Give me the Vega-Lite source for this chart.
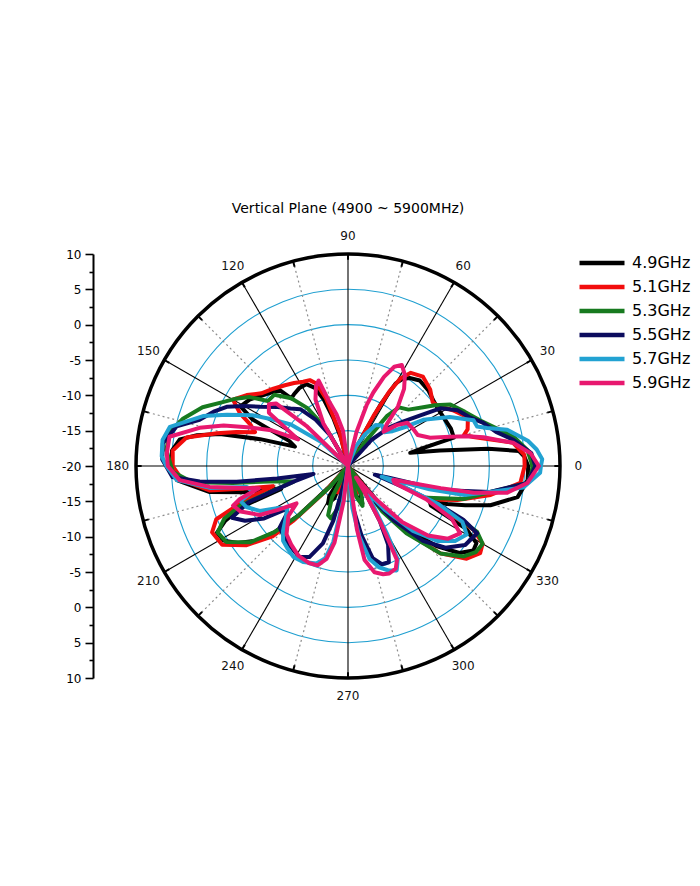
{
  "$schema": "https://vega.github.io/schema/vega-lite/v6.json",
  "autosize": {"type": "none"},
  "padding": {"left": 136, "top": 254, "right": 140, "bottom": 208},
  "width": 424,
  "height": 424,
  "background": "white",
  "title": {"text": "Vertical Plane (4900 ~ 5900MHz)", "fontSize": 14, "font": "DejaVu Sans", "fontWeight": "normal", "color": "black", "offset": 14, "frame": "group", "anchor": "middle"},
  "config": {"view": {"stroke": null}},
  "datasets": {
    "pattern": [
      {"f":"4.9GHz","a":0,"g":5.5},{"f":"4.9GHz","a":3,"g":5.0},{"f":"4.9GHz","a":5,"g":4.3},{"f":"4.9GHz","a":7,"g":0},{"f":"4.9GHz","a":9.5,"g":-6.8},{"f":"4.9GHz","a":12,"g":-11},{"f":"4.9GHz","a":13.5,"g":-9},{"f":"4.9GHz","a":15,"g":-4.5},{"f":"4.9GHz","a":20,"g":-4.5},{"f":"4.9GHz","a":26,"g":-4.8},{"f":"4.9GHz","a":32,"g":-4.9},{"f":"4.9GHz","a":37,"g":-4.8},{"f":"4.9GHz","a":43,"g":-4.4},{"f":"4.9GHz","a":50,"g":-4.2},{"f":"4.9GHz","a":55,"g":-4.8},{"f":"4.9GHz","a":58,"g":-5.5},{"f":"4.9GHz","a":60,"g":-6.5},{"f":"4.9GHz","a":62,"g":-10},{"f":"4.9GHz","a":64,"g":-15},{"f":"4.9GHz","a":67,"g":-20},{"f":"4.9GHz","a":100,"g":-20},{"f":"4.9GHz","a":104,"g":-16},{"f":"4.9GHz","a":107,"g":-13},{"f":"4.9GHz","a":110,"g":-10},{"f":"4.9GHz","a":113,"g":-8},{"f":"4.9GHz","a":117,"g":-7},{"f":"4.9GHz","a":122,"g":-7},{"f":"4.9GHz","a":127,"g":-7.3},{"f":"4.9GHz","a":130,"g":-7.5},{"f":"4.9GHz","a":132,"g":-5.5},{"f":"4.9GHz","a":136,"g":-5},{"f":"4.9GHz","a":141,"g":-4.2},{"f":"4.9GHz","a":146,"g":-3.2},{"f":"4.9GHz","a":151,"g":-2.6},{"f":"4.9GHz","a":154,"g":-5},{"f":"4.9GHz","a":157,"g":-11},{"f":"4.9GHz","a":160,"g":-12},{"f":"4.9GHz","a":163,"g":-7},{"f":"4.9GHz","a":166,"g":-1.3},{"f":"4.9GHz","a":168.5,"g":1.8},{"f":"4.9GHz","a":171,"g":4.1},{"f":"4.9GHz","a":175,"g":5},{"f":"4.9GHz","a":180,"g":5},{"f":"4.9GHz","a":184.7,"g":4.3},{"f":"4.9GHz","a":187.5,"g":2},{"f":"4.9GHz","a":190.7,"g":-0.1},{"f":"4.9GHz","a":194,"g":-4.7},{"f":"4.9GHz","a":197,"g":-9},{"f":"4.9GHz","a":199,"g":-10},{"f":"4.9GHz","a":201,"g":-4},{"f":"4.9GHz","a":204,"g":-1},{"f":"4.9GHz","a":207,"g":0.8},{"f":"4.9GHz","a":211,"g":0.5},{"f":"4.9GHz","a":215,"g":-1},{"f":"4.9GHz","a":219,"g":-3.2},{"f":"4.9GHz","a":222,"g":-6},{"f":"4.9GHz","a":225,"g":-10},{"f":"4.9GHz","a":228,"g":-16},{"f":"4.9GHz","a":231,"g":-20},{"f":"4.9GHz","a":234,"g":-20},{"f":"4.9GHz","a":238,"g":-15},{"f":"4.9GHz","a":242,"g":-14},{"f":"4.9GHz","a":247,"g":-15},{"f":"4.9GHz","a":252,"g":-20},{"f":"4.9GHz","a":282,"g":-20},{"f":"4.9GHz","a":286,"g":-15.5},{"f":"4.9GHz","a":291,"g":-14.3},{"f":"4.9GHz","a":296,"g":-16},{"f":"4.9GHz","a":300,"g":-20},{"f":"4.9GHz","a":306,"g":-20},{"f":"4.9GHz","a":310,"g":-12},{"f":"4.9GHz","a":314,"g":-7},{"f":"4.9GHz","a":318,"g":-3},{"f":"4.9GHz","a":322,"g":0},{"f":"4.9GHz","a":326,"g":1.4},{"f":"4.9GHz","a":329,"g":1.2},{"f":"4.9GHz","a":332,"g":-1},{"f":"4.9GHz","a":334.5,"g":-7},{"f":"4.9GHz","a":337,"g":-7.5},{"f":"4.9GHz","a":339,"g":-5},{"f":"4.9GHz","a":341.5,"g":-2.5},{"f":"4.9GHz","a":344.6,"g":0.9},{"f":"4.9GHz","a":349.6,"g":4.4},{"f":"4.9GHz","a":355.5,"g":5.5},{"f":"4.9GHz","a":360,"g":5.5},

      {"f":"5.1GHz","a":0,"g":5},{"f":"5.1GHz","a":3.6,"g":5},{"f":"5.1GHz","a":8,"g":3.6},{"f":"5.1GHz","a":13,"g":-1.8},{"f":"5.1GHz","a":15,"g":-3},{"f":"5.1GHz","a":17,"g":-2.3},{"f":"5.1GHz","a":22,"g":-1.7},{"f":"5.1GHz","a":28,"g":-3.2},{"f":"5.1GHz","a":34,"g":-4.7},{"f":"5.1GHz","a":37,"g":-5},{"f":"5.1GHz","a":43,"g":-4.1},{"f":"5.1GHz","a":50,"g":-3.5},{"f":"5.1GHz","a":56,"g":-4.1},{"f":"5.1GHz","a":59,"g":-5.5},{"f":"5.1GHz","a":61,"g":-8},{"f":"5.1GHz","a":63,"g":-12},{"f":"5.1GHz","a":66,"g":-17},{"f":"5.1GHz","a":70,"g":-20},{"f":"5.1GHz","a":100,"g":-20},{"f":"5.1GHz","a":104,"g":-15},{"f":"5.1GHz","a":108,"g":-10},{"f":"5.1GHz","a":111,"g":-7.5},{"f":"5.1GHz","a":114,"g":-6.7},{"f":"5.1GHz","a":118,"g":-6.5},{"f":"5.1GHz","a":123,"g":-6},{"f":"5.1GHz","a":128,"g":-5.5},{"f":"5.1GHz","a":134,"g":-4.8},{"f":"5.1GHz","a":140,"g":-4},{"f":"5.1GHz","a":145,"g":-2.5},{"f":"5.1GHz","a":150,"g":-1.2},{"f":"5.1GHz","a":154,"g":-3},{"f":"5.1GHz","a":157,"g":-5},{"f":"5.1GHz","a":160,"g":-6},{"f":"5.1GHz","a":163,"g":-3.5},{"f":"5.1GHz","a":166,"g":-0.9},{"f":"5.1GHz","a":170,"g":3.2},{"f":"5.1GHz","a":175,"g":4.9},{"f":"5.1GHz","a":180,"g":4.8},{"f":"5.1GHz","a":185,"g":3.5},{"f":"5.1GHz","a":190,"g":-0.1},{"f":"5.1GHz","a":192,"g":-4.5},{"f":"5.1GHz","a":195,"g":-9},{"f":"5.1GHz","a":198,"g":-5},{"f":"5.1GHz","a":202,"g":0.1},{"f":"5.1GHz","a":206,"g":1.4},{"f":"5.1GHz","a":212,"g":1},{"f":"5.1GHz","a":218,"g":-1.8},{"f":"5.1GHz","a":223,"g":-5.4},{"f":"5.1GHz","a":225,"g":-9},{"f":"5.1GHz","a":228,"g":-15},{"f":"5.1GHz","a":232,"g":-20},{"f":"5.1GHz","a":240,"g":-20},{"f":"5.1GHz","a":244,"g":-16},{"f":"5.1GHz","a":249,"g":-16},{"f":"5.1GHz","a":254,"g":-20},{"f":"5.1GHz","a":283,"g":-20},{"f":"5.1GHz","a":287,"g":-16},{"f":"5.1GHz","a":292,"g":-16},{"f":"5.1GHz","a":297,"g":-20},{"f":"5.1GHz","a":305,"g":-20},{"f":"5.1GHz","a":308,"g":-12},{"f":"5.1GHz","a":312,"g":-7},{"f":"5.1GHz","a":316.6,"g":-2},{"f":"5.1GHz","a":322,"g":1.3},{"f":"5.1GHz","a":326.6,"g":2.4},{"f":"5.1GHz","a":330,"g":2},{"f":"5.1GHz","a":333,"g":0},{"f":"5.1GHz","a":335.5,"g":-5},{"f":"5.1GHz","a":338,"g":-8},{"f":"5.1GHz","a":340,"g":-6},{"f":"5.1GHz","a":342.7,"g":-3.8},{"f":"5.1GHz","a":348.5,"g":0.6},{"f":"5.1GHz","a":354.4,"g":4.5},{"f":"5.1GHz","a":360,"g":5},

      {"f":"5.3GHz","a":0,"g":6.1},{"f":"5.3GHz","a":5,"g":5.5},{"f":"5.3GHz","a":10,"g":3.8},{"f":"5.3GHz","a":14,"g":1.8},{"f":"5.3GHz","a":19,"g":-0.2},{"f":"5.3GHz","a":25,"g":-1.8},{"f":"5.3GHz","a":31,"g":-3.1},{"f":"5.3GHz","a":35,"g":-5},{"f":"5.3GHz","a":38,"g":-6.5},{"f":"5.3GHz","a":43,"g":-8.3},{"f":"5.3GHz","a":49,"g":-9},{"f":"5.3GHz","a":52,"g":-11},{"f":"5.3GHz","a":55,"g":-16},{"f":"5.3GHz","a":58,"g":-20},{"f":"5.3GHz","a":115,"g":-20},{"f":"5.3GHz","a":120,"g":-14},{"f":"5.3GHz","a":125,"g":-10},{"f":"5.3GHz","a":130,"g":-7.5},{"f":"5.3GHz","a":136,"g":-5.5},{"f":"5.3GHz","a":141,"g":-5.4},{"f":"5.3GHz","a":145,"g":-3},{"f":"5.3GHz","a":149,"g":-1.5},{"f":"5.3GHz","a":153,"g":-0.1},{"f":"5.3GHz","a":158,"g":2.2},{"f":"5.3GHz","a":164,"g":4.3},{"f":"5.3GHz","a":169.5,"g":5.7},{"f":"5.3GHz","a":175,"g":5.8},{"f":"5.3GHz","a":182,"g":4.8},{"f":"5.3GHz","a":186,"g":2.1},{"f":"5.3GHz","a":188.4,"g":-3.5},{"f":"5.3GHz","a":192,"g":-9.7},{"f":"5.3GHz","a":196,"g":-12},{"f":"5.3GHz","a":200,"g":-4},{"f":"5.3GHz","a":203,"g":-1},{"f":"5.3GHz","a":207,"g":0.7},{"f":"5.3GHz","a":212,"g":0.3},{"f":"5.3GHz","a":218,"g":-2.5},{"f":"5.3GHz","a":222,"g":-6},{"f":"5.3GHz","a":225,"g":-10},{"f":"5.3GHz","a":229,"g":-16},{"f":"5.3GHz","a":233,"g":-20},{"f":"5.3GHz","a":239,"g":-20},{"f":"5.3GHz","a":243,"g":-15},{"f":"5.3GHz","a":248,"g":-12.5},{"f":"5.3GHz","a":252,"g":-12.2},{"f":"5.3GHz","a":257,"g":-14},{"f":"5.3GHz","a":262,"g":-20},{"f":"5.3GHz","a":280,"g":-20},{"f":"5.3GHz","a":285,"g":-15.5},{"f":"5.3GHz","a":290,"g":-14},{"f":"5.3GHz","a":295,"g":-15.5},{"f":"5.3GHz","a":300,"g":-20},{"f":"5.3GHz","a":304,"g":-20},{"f":"5.3GHz","a":307,"g":-12},{"f":"5.3GHz","a":311,"g":-7.4},{"f":"5.3GHz","a":316.6,"g":-2},{"f":"5.3GHz","a":322,"g":0.8},{"f":"5.3GHz","a":326,"g":1.8},{"f":"5.3GHz","a":330,"g":2},{"f":"5.3GHz","a":333,"g":0.5},{"f":"5.3GHz","a":335.5,"g":-4},{"f":"5.3GHz","a":338,"g":-8},{"f":"5.3GHz","a":341,"g":-6},{"f":"5.3GHz","a":344,"g":-3},{"f":"5.3GHz","a":349,"g":0},{"f":"5.3GHz","a":354.6,"g":5.5},{"f":"5.3GHz","a":358,"g":6},{"f":"5.3GHz","a":360,"g":6.1},

      {"f":"5.5GHz","a":0,"g":6.5},{"f":"5.5GHz","a":4,"g":6},{"f":"5.5GHz","a":9,"g":3.7},{"f":"5.5GHz","a":13,"g":1.5},{"f":"5.5GHz","a":17.7,"g":0.1},{"f":"5.5GHz","a":22,"g":-1.5},{"f":"5.5GHz","a":27,"g":-2.6},{"f":"5.5GHz","a":32,"g":-4.6},{"f":"5.5GHz","a":35,"g":-7.5},{"f":"5.5GHz","a":39,"g":-10},{"f":"5.5GHz","a":43,"g":-12},{"f":"5.5GHz","a":48,"g":-15},{"f":"5.5GHz","a":53,"g":-20},{"f":"5.5GHz","a":110,"g":-20},{"f":"5.5GHz","a":120,"g":-15},{"f":"5.5GHz","a":125,"g":-12},{"f":"5.5GHz","a":130,"g":-9.5},{"f":"5.5GHz","a":135,"g":-8.5},{"f":"5.5GHz","a":140,"g":-7},{"f":"5.5GHz","a":146,"g":-5},{"f":"5.5GHz","a":150,"g":-3},{"f":"5.5GHz","a":154,"g":-0.9},{"f":"5.5GHz","a":158,"g":0.5},{"f":"5.5GHz","a":162.7,"g":2},{"f":"5.5GHz","a":167,"g":4.9},{"f":"5.5GHz","a":173,"g":6.4},{"f":"5.5GHz","a":178,"g":6.3},{"f":"5.5GHz","a":183.6,"g":4.9},{"f":"5.5GHz","a":186,"g":1.1},{"f":"5.5GHz","a":188,"g":-4.1},{"f":"5.5GHz","a":190,"g":-9.8},{"f":"5.5GHz","a":193,"g":-15},{"f":"5.5GHz","a":196,"g":-12},{"f":"5.5GHz","a":200,"g":-5},{"f":"5.5GHz","a":204,"g":-2},{"f":"5.5GHz","a":208,"g":-3.5},{"f":"5.5GHz","a":212,"g":-6},{"f":"5.5GHz","a":215,"g":-9.5},{"f":"5.5GHz","a":218,"g":-9},{"f":"5.5GHz","a":222,"g":-7},{"f":"5.5GHz","a":230,"g":-6.3},{"f":"5.5GHz","a":237,"g":-5.8},{"f":"5.5GHz","a":242,"g":-5.4},{"f":"5.5GHz","a":247,"g":-6},{"f":"5.5GHz","a":252,"g":-8.5},{"f":"5.5GHz","a":255,"g":-12},{"f":"5.5GHz","a":258,"g":-18},{"f":"5.5GHz","a":262,"g":-20},{"f":"5.5GHz","a":272,"g":-20},{"f":"5.5GHz","a":277,"g":-14},{"f":"5.5GHz","a":281,"g":-10},{"f":"5.5GHz","a":285,"g":-6.5},{"f":"5.5GHz","a":289,"g":-5.3},{"f":"5.5GHz","a":293,"g":-5.2},{"f":"5.5GHz","a":297,"g":-7.5},{"f":"5.5GHz","a":300,"g":-11},{"f":"5.5GHz","a":304,"g":-16},{"f":"5.5GHz","a":307,"g":-14},{"f":"5.5GHz","a":310,"g":-10},{"f":"5.5GHz","a":315,"g":-5},{"f":"5.5GHz","a":320,"g":-2},{"f":"5.5GHz","a":326,"g":0},{"f":"5.5GHz","a":332.5,"g":0.6},{"f":"5.5GHz","a":335,"g":-2},{"f":"5.5GHz","a":337,"g":-6},{"f":"5.5GHz","a":339,"g":-11},{"f":"5.5GHz","a":342,"g":-16},{"f":"5.5GHz","a":344,"g":-13.8},{"f":"5.5GHz","a":345.4,"g":-6.5},{"f":"5.5GHz","a":349.6,"g":0.4},{"f":"5.5GHz","a":354.6,"g":5.5},{"f":"5.5GHz","a":360,"g":6.5},

      {"f":"5.7GHz","a":0,"g":7.3},{"f":"5.7GHz","a":2,"g":7.5},{"f":"5.7GHz","a":5,"g":6.8},{"f":"5.7GHz","a":8,"g":5.7},{"f":"5.7GHz","a":12.8,"g":3.1},{"f":"5.7GHz","a":15.3,"g":0.4},{"f":"5.7GHz","a":17,"g":-0.9},{"f":"5.7GHz","a":20,"g":-1.1},{"f":"5.7GHz","a":25.7,"g":-4},{"f":"5.7GHz","a":31.5,"g":-7.5},{"f":"5.7GHz","a":34,"g":-10},{"f":"5.7GHz","a":38,"g":-12},{"f":"5.7GHz","a":43,"g":-13},{"f":"5.7GHz","a":50,"g":-12.5},{"f":"5.7GHz","a":56,"g":-13},{"f":"5.7GHz","a":62,"g":-15},{"f":"5.7GHz","a":68,"g":-17},{"f":"5.7GHz","a":75,"g":-20},{"f":"5.7GHz","a":130,"g":-20},{"f":"5.7GHz","a":138,"g":-15},{"f":"5.7GHz","a":144,"g":-10},{"f":"5.7GHz","a":149,"g":-7},{"f":"5.7GHz","a":152,"g":-4.7},{"f":"5.7GHz","a":157,"g":-1.4},{"f":"5.7GHz","a":161,"g":1.7},{"f":"5.7GHz","a":167.6,"g":5.8},{"f":"5.7GHz","a":172,"g":6.5},{"f":"5.7GHz","a":177,"g":6.4},{"f":"5.7GHz","a":180,"g":5.7},{"f":"5.7GHz","a":184.7,"g":4.3},{"f":"5.7GHz","a":189,"g":-0.2},{"f":"5.7GHz","a":191.7,"g":-5.4},{"f":"5.7GHz","a":195,"g":-6},{"f":"5.7GHz","a":198,"g":-4},{"f":"5.7GHz","a":202,"g":-4.5},{"f":"5.7GHz","a":207,"g":-6},{"f":"5.7GHz","a":211,"g":-8.5},{"f":"5.7GHz","a":215,"g":-9.5},{"f":"5.7GHz","a":220,"g":-8.5},{"f":"5.7GHz","a":225,"g":-7},{"f":"5.7GHz","a":229,"g":-6},{"f":"5.7GHz","a":234,"g":-5.5},{"f":"5.7GHz","a":239,"g":-5},{"f":"5.7GHz","a":245,"g":-5},{"f":"5.7GHz","a":252,"g":-5.5},{"f":"5.7GHz","a":256,"g":-6.5},{"f":"5.7GHz","a":259,"g":-9},{"f":"5.7GHz","a":262,"g":-15},{"f":"5.7GHz","a":266,"g":-20},{"f":"5.7GHz","a":272,"g":-20},{"f":"5.7GHz","a":276,"g":-14},{"f":"5.7GHz","a":279,"g":-10},{"f":"5.7GHz","a":283,"g":-6.5},{"f":"5.7GHz","a":287,"g":-5},{"f":"5.7GHz","a":291,"g":-4.2},{"f":"5.7GHz","a":295,"g":-3.7},{"f":"5.7GHz","a":298,"g":-5},{"f":"5.7GHz","a":300,"g":-9},{"f":"5.7GHz","a":303,"g":-14},{"f":"5.7GHz","a":307,"g":-15},{"f":"5.7GHz","a":310,"g":-12},{"f":"5.7GHz","a":315,"g":-7},{"f":"5.7GHz","a":320,"g":-3.5},{"f":"5.7GHz","a":325,"g":-1.5},{"f":"5.7GHz","a":330,"g":-0.6},{"f":"5.7GHz","a":334,"g":-2},{"f":"5.7GHz","a":337,"g":-6},{"f":"5.7GHz","a":340,"g":-12},{"f":"5.7GHz","a":342.5,"g":-15},{"f":"5.7GHz","a":344,"g":-8},{"f":"5.7GHz","a":346,"g":-3},{"f":"5.7GHz","a":349.6,"g":0.4},{"f":"5.7GHz","a":353,"g":5},{"f":"5.7GHz","a":358,"g":7.2},{"f":"5.7GHz","a":360,"g":7.3},

      {"f":"5.9GHz","a":0,"g":7},{"f":"5.9GHz","a":4,"g":5.9},{"f":"5.9GHz","a":8,"g":3.6},{"f":"5.9GHz","a":12,"g":-0.4},{"f":"5.9GHz","a":14,"g":-2.6},{"f":"5.9GHz","a":16,"g":-5},{"f":"5.9GHz","a":19,"g":-7.7},{"f":"5.9GHz","a":24,"g":-9.2},{"f":"5.9GHz","a":30,"g":-9.4},{"f":"5.9GHz","a":36,"g":-9.6},{"f":"5.9GHz","a":40,"g":-11},{"f":"5.9GHz","a":44,"g":-13},{"f":"5.9GHz","a":47,"g":-12},{"f":"5.9GHz","a":50,"g":-9},{"f":"5.9GHz","a":54,"g":-6.5},{"f":"5.9GHz","a":58,"g":-4.8},{"f":"5.9GHz","a":62,"g":-3.8},{"f":"5.9GHz","a":65,"g":-4.5},{"f":"5.9GHz","a":68,"g":-6.4},{"f":"5.9GHz","a":71,"g":-9},{"f":"5.9GHz","a":73,"g":-11},{"f":"5.9GHz","a":76,"g":-15},{"f":"5.9GHz","a":80,"g":-20},{"f":"5.9GHz","a":95,"g":-20},{"f":"5.9GHz","a":98,"g":-15},{"f":"5.9GHz","a":102.5,"g":-12.5},{"f":"5.9GHz","a":106,"g":-10.7},{"f":"5.9GHz","a":109,"g":-7.2},{"f":"5.9GHz","a":112,"g":-7.9},{"f":"5.9GHz","a":116,"g":-9.5},{"f":"5.9GHz","a":120,"g":-13},{"f":"5.9GHz","a":125,"g":-20},{"f":"5.9GHz","a":132,"g":-20},{"f":"5.9GHz","a":136,"g":-12},{"f":"5.9GHz","a":139,"g":-6.5},{"f":"5.9GHz","a":142,"g":-5.8},{"f":"5.9GHz","a":146,"g":-6.5},{"f":"5.9GHz","a":149,"g":-10},{"f":"5.9GHz","a":152,"g":-12},{"f":"5.9GHz","a":155,"g":-8},{"f":"5.9GHz","a":159,"g":-4.7},{"f":"5.9GHz","a":162,"g":-1.5},{"f":"5.9GHz","a":165.6,"g":1.7},{"f":"5.9GHz","a":170.7,"g":5.6},{"f":"5.9GHz","a":176,"g":5.7},{"f":"5.9GHz","a":180,"g":5.5},{"f":"5.9GHz","a":184.8,"g":3.9},{"f":"5.9GHz","a":188.6,"g":-0.2},{"f":"5.9GHz","a":191.5,"g":-4.4},{"f":"5.9GHz","a":194,"g":-7},{"f":"5.9GHz","a":197,"g":-4},{"f":"5.9GHz","a":199,"g":-2.8},{"f":"5.9GHz","a":203,"g":-3.5},{"f":"5.9GHz","a":209,"g":-5.7},{"f":"5.9GHz","a":212,"g":-8.2},{"f":"5.9GHz","a":216,"g":-11},{"f":"5.9GHz","a":220,"g":-9},{"f":"5.9GHz","a":228,"g":-7},{"f":"5.9GHz","a":234,"g":-6.3},{"f":"5.9GHz","a":241,"g":-5.5},{"f":"5.9GHz","a":248,"g":-5.2},{"f":"5.9GHz","a":253,"g":-5.3},{"f":"5.9GHz","a":257,"g":-6.5},{"f":"5.9GHz","a":260,"g":-9},{"f":"5.9GHz","a":263,"g":-15},{"f":"5.9GHz","a":267,"g":-20},{"f":"5.9GHz","a":275,"g":-20},{"f":"5.9GHz","a":278,"g":-11},{"f":"5.9GHz","a":280,"g":-6.5},{"f":"5.9GHz","a":284,"g":-4.5},{"f":"5.9GHz","a":288,"g":-3.9},{"f":"5.9GHz","a":291,"g":-3.7},{"f":"5.9GHz","a":295,"g":-4},{"f":"5.9GHz","a":297.5,"g":-5},{"f":"5.9GHz","a":298.5,"g":-8},{"f":"5.9GHz","a":300,"g":-11},{"f":"5.9GHz","a":302,"g":-15},{"f":"5.9GHz","a":305,"g":-18},{"f":"5.9GHz","a":310,"g":-14},{"f":"5.9GHz","a":314,"g":-9},{"f":"5.9GHz","a":319,"g":-5},{"f":"5.9GHz","a":324,"g":-2.5},{"f":"5.9GHz","a":329,"g":-1.5},{"f":"5.9GHz","a":333,"g":-3.5},{"f":"5.9GHz","a":337,"g":-8},{"f":"5.9GHz","a":340,"g":-13},{"f":"5.9GHz","a":343,"g":-13.3},{"f":"5.9GHz","a":346.6,"g":-6.5},{"f":"5.9GHz","a":348,"g":-1.8},{"f":"5.9GHz","a":350.4,"g":2.8},{"f":"5.9GHz","a":354.6,"g":5.5},{"f":"5.9GHz","a":360,"g":7}
    ],
    "rings": [{"r": -15, "k": "grid"}, {"r": -10, "k": "grid"}, {"r": -5, "k": "grid"}, {"r": 0, "k": "grid"}, {"r": 5, "k": "grid"}, {"r": 10, "k": "outer"}],
    "spokes": [
      {"a":0,"k":"major"},{"a":15,"k":"minor"},{"a":30,"k":"major"},{"a":45,"k":"minor"},{"a":60,"k":"major"},{"a":75,"k":"minor"},
      {"a":90,"k":"major"},{"a":105,"k":"minor"},{"a":120,"k":"major"},{"a":135,"k":"minor"},{"a":150,"k":"major"},{"a":165,"k":"minor"},
      {"a":180,"k":"major"},{"a":195,"k":"minor"},{"a":210,"k":"major"},{"a":225,"k":"minor"},{"a":240,"k":"major"},{"a":255,"k":"minor"},
      {"a":270,"k":"major"},{"a":285,"k":"minor"},{"a":300,"k":"major"},{"a":315,"k":"minor"},{"a":330,"k":"major"},{"a":345,"k":"minor"}
    ],
    "labels": [
      {"a":0,"t":"0"},{"a":30,"t":"30"},{"a":60,"t":"60"},{"a":90,"t":"90"},{"a":120,"t":"120"},{"a":150,"t":"150"},
      {"a":180,"t":"180"},{"a":210,"t":"210"},{"a":240,"t":"240"},{"a":270,"t":"270"},{"a":300,"t":"300"},{"a":330,"t":"330"}
    ]
  },
  "layer": [
    {
      "data": {"name": "rings"},
      "transform": [{"filter": "datum.k === 'grid'"}, {"calculate": "datum.r + 20", "as": "d"}, {"calculate": "0", "as": "ox"}],
      "mark": {"type": "point", "shape": "circle", "filled": false, "stroke": "#1f9fd0", "strokeWidth": 1.1, "opacity": 1},
      "encoding": {
        "x": {"field": "ox", "type": "quantitative", "scale": {"domain": [-30, 30]}, "axis": null},
        "y": {"field": "ox", "type": "quantitative", "scale": {"domain": [-30, 30]},
          "axis": {"title": null, "grid": false, "offset": 43, "values": [-30,-27.5,-25,-22.5,-20,-17.5,-15,-12.5,-10,-7.5,-5,-2.5,0,2.5,5,7.5,10,12.5,15,17.5,20,22.5,25,27.5,30], "labelExpr": "datum.value % 5 == 0 ? '' + (abs(datum.value) - 20) : ''", "labelOverlap": false, "labelFlush": false, "labelFont": "DejaVu Sans", "labelFontSize": 12, "labelColor": "black", "labelPadding": 4, "domainColor": "black", "domainWidth": 2, "tickColor": "black", "tickWidth": 1.6, "tickSize": {"condition": {"test": "datum.value % 5 == 0", "value": 8}, "value": 4}}},
        "size": {"field": "d", "type": "quantitative", "scale": {"type": "pow", "exponent": 2, "domain": [0, 30], "range": [0, 179776]}, "legend": null}
      }
    },
    {
      "data": {"name": "spokes"},
      "transform": [
        {"filter": "datum.k === 'minor'"},
        {"calculate": "0", "as": "ox"},
        {"calculate": "30*cos(datum.a*PI/180)", "as": "sx"},
        {"calculate": "30*sin(datum.a*PI/180)", "as": "sy"}
      ],
      "mark": {"type": "rule", "stroke": "#8c8c8c", "strokeWidth": 1.2, "strokeDash": [2, 3]},
      "encoding": {
        "x": {"field": "ox", "type": "quantitative", "scale": {"domain": [-30, 30]}, "axis": null},
        "y": {"field": "ox", "type": "quantitative", "scale": {"domain": [-30, 30]},
          "axis": {"title": null, "grid": false, "offset": 43, "values": [-30,-27.5,-25,-22.5,-20,-17.5,-15,-12.5,-10,-7.5,-5,-2.5,0,2.5,5,7.5,10,12.5,15,17.5,20,22.5,25,27.5,30], "labelExpr": "datum.value % 5 == 0 ? '' + (abs(datum.value) - 20) : ''", "labelOverlap": false, "labelFlush": false, "labelFont": "DejaVu Sans", "labelFontSize": 12, "labelColor": "black", "labelPadding": 4, "domainColor": "black", "domainWidth": 2, "tickColor": "black", "tickWidth": 1.6, "tickSize": {"condition": {"test": "datum.value % 5 == 0", "value": 8}, "value": 4}}},
        "x2": {"field": "sx"},
        "y2": {"field": "sy"}
      }
    },
    {
      "data": {"name": "spokes"},
      "transform": [
        {"filter": "datum.k === 'major'"},
        {"calculate": "0", "as": "ox"},
        {"calculate": "30*cos(datum.a*PI/180)", "as": "sx"},
        {"calculate": "30*sin(datum.a*PI/180)", "as": "sy"}
      ],
      "mark": {"type": "rule", "stroke": "black", "strokeWidth": 1.1},
      "encoding": {
        "x": {"field": "ox", "type": "quantitative", "scale": {"domain": [-30, 30]}, "axis": null},
        "y": {"field": "ox", "type": "quantitative", "scale": {"domain": [-30, 30]},
          "axis": {"title": null, "grid": false, "offset": 43, "values": [-30,-27.5,-25,-22.5,-20,-17.5,-15,-12.5,-10,-7.5,-5,-2.5,0,2.5,5,7.5,10,12.5,15,17.5,20,22.5,25,27.5,30], "labelExpr": "datum.value % 5 == 0 ? '' + (abs(datum.value) - 20) : ''", "labelOverlap": false, "labelFlush": false, "labelFont": "DejaVu Sans", "labelFontSize": 12, "labelColor": "black", "labelPadding": 4, "domainColor": "black", "domainWidth": 2, "tickColor": "black", "tickWidth": 1.6, "tickSize": {"condition": {"test": "datum.value % 5 == 0", "value": 8}, "value": 4}}},
        "x2": {"field": "sx"},
        "y2": {"field": "sy"}
      }
    },
    {
      "data": {"name": "spokes"},
      "transform": [
        {"calculate": "29.2*cos(datum.a*PI/180)", "as": "tx"},
        {"calculate": "29.2*sin(datum.a*PI/180)", "as": "ty"},
        {"calculate": "30*cos(datum.a*PI/180)", "as": "sx"},
        {"calculate": "30*sin(datum.a*PI/180)", "as": "sy"}
      ],
      "mark": {"type": "rule", "stroke": "black", "strokeWidth": 2},
      "encoding": {
        "x": {"field": "tx", "type": "quantitative", "scale": {"domain": [-30, 30]}, "axis": null},
        "y": {"field": "ty", "type": "quantitative", "scale": {"domain": [-30, 30]},
          "axis": {"title": null, "grid": false, "offset": 43, "values": [-30,-27.5,-25,-22.5,-20,-17.5,-15,-12.5,-10,-7.5,-5,-2.5,0,2.5,5,7.5,10,12.5,15,17.5,20,22.5,25,27.5,30], "labelExpr": "datum.value % 5 == 0 ? '' + (abs(datum.value) - 20) : ''", "labelOverlap": false, "labelFlush": false, "labelFont": "DejaVu Sans", "labelFontSize": 12, "labelColor": "black", "labelPadding": 4, "domainColor": "black", "domainWidth": 2, "tickColor": "black", "tickWidth": 1.6, "tickSize": {"condition": {"test": "datum.value % 5 == 0", "value": 8}, "value": 4}}},
        "x2": {"field": "sx"},
        "y2": {"field": "sy"}
      }
    },
    {
      "data": {"name": "rings"},
      "transform": [{"filter": "datum.k === 'outer'"}, {"calculate": "datum.r + 20", "as": "d"}, {"calculate": "0", "as": "ox"}],
      "mark": {"type": "point", "shape": "circle", "filled": false, "stroke": "black", "strokeWidth": 3.5, "opacity": 1},
      "encoding": {
        "x": {"field": "ox", "type": "quantitative", "scale": {"domain": [-30, 30]}, "axis": null},
        "y": {"field": "ox", "type": "quantitative", "scale": {"domain": [-30, 30]},
          "axis": {"title": null, "grid": false, "offset": 43, "values": [-30,-27.5,-25,-22.5,-20,-17.5,-15,-12.5,-10,-7.5,-5,-2.5,0,2.5,5,7.5,10,12.5,15,17.5,20,22.5,25,27.5,30], "labelExpr": "datum.value % 5 == 0 ? '' + (abs(datum.value) - 20) : ''", "labelOverlap": false, "labelFlush": false, "labelFont": "DejaVu Sans", "labelFontSize": 12, "labelColor": "black", "labelPadding": 4, "domainColor": "black", "domainWidth": 2, "tickColor": "black", "tickWidth": 1.6, "tickSize": {"condition": {"test": "datum.value % 5 == 0", "value": 8}, "value": 4}}},
        "size": {"field": "d", "type": "quantitative", "scale": {"type": "pow", "exponent": 2, "domain": [0, 30], "range": [0, 179776]}, "legend": null}
      }
    },
    {
      "data": {"name": "pattern"},
      "transform": [
        {"calculate": "max(datum.g + 20, 0)", "as": "rr"},
        {"calculate": "datum.rr*cos(datum.a*PI/180)", "as": "px"},
        {"calculate": "datum.rr*sin(datum.a*PI/180)", "as": "py"}
      ],
      "mark": {"type": "line", "strokeWidth": 4, "strokeJoin": "round", "strokeCap": "round"},
      "encoding": {
        "x": {"field": "px", "type": "quantitative", "scale": {"domain": [-30, 30]}, "axis": null},
        "y": {"field": "py", "type": "quantitative", "scale": {"domain": [-30, 30]},
          "axis": {"title": null, "grid": false, "offset": 43, "values": [-30,-27.5,-25,-22.5,-20,-17.5,-15,-12.5,-10,-7.5,-5,-2.5,0,2.5,5,7.5,10,12.5,15,17.5,20,22.5,25,27.5,30], "labelExpr": "datum.value % 5 == 0 ? '' + (abs(datum.value) - 20) : ''", "labelOverlap": false, "labelFlush": false, "labelFont": "DejaVu Sans", "labelFontSize": 12, "labelColor": "black", "labelPadding": 4, "domainColor": "black", "domainWidth": 2, "tickColor": "black", "tickWidth": 1.6, "tickSize": {"condition": {"test": "datum.value % 5 == 0", "value": 8}, "value": 4}}},
        "order": {"field": "a", "type": "quantitative"},
        "color": {
          "field": "f", "type": "nominal",
          "scale": {"domain": ["4.9GHz","5.1GHz","5.3GHz","5.5GHz","5.7GHz","5.9GHz"], "range": ["#000000","#f20d0d","#177a1f","#0c0c5e","#22a2d2","#e8186f"]},
          "legend": {
            "title": null, "orient": "none", "legendX": 441, "legendY": 1, "padding": 0,
            "symbolType": "stroke", "symbolSize": 2025, "symbolStrokeWidth": 4.5, "clipHeight": 16,
            "labelFont": "DejaVu Sans", "labelFontSize": 16, "labelColor": "black", "labelOffset": 5,
            "rowPadding": 8
          }
        }
      }
    },
    {
      "data": {"name": "labels"},
      "transform": [
        {"calculate": "32.6*cos(datum.a*PI/180)", "as": "lx"},
        {"calculate": "32.6*sin(datum.a*PI/180)", "as": "ly"}
      ],
      "mark": {"type": "text", "font": "DejaVu Sans", "fontSize": 12, "color": "#111111", "align": "center", "baseline": "middle"},
      "encoding": {
        "x": {"field": "lx", "type": "quantitative", "scale": {"domain": [-30, 30]}, "axis": null},
        "y": {"field": "ly", "type": "quantitative", "scale": {"domain": [-30, 30]},
          "axis": {"title": null, "grid": false, "offset": 43, "values": [-30,-27.5,-25,-22.5,-20,-17.5,-15,-12.5,-10,-7.5,-5,-2.5,0,2.5,5,7.5,10,12.5,15,17.5,20,22.5,25,27.5,30], "labelExpr": "datum.value % 5 == 0 ? '' + (abs(datum.value) - 20) : ''", "labelOverlap": false, "labelFlush": false, "labelFont": "DejaVu Sans", "labelFontSize": 12, "labelColor": "black", "labelPadding": 4, "domainColor": "black", "domainWidth": 2, "tickColor": "black", "tickWidth": 1.6, "tickSize": {"condition": {"test": "datum.value % 5 == 0", "value": 8}, "value": 4}}},
        "text": {"field": "t"}
      }
    }
  ]
}
